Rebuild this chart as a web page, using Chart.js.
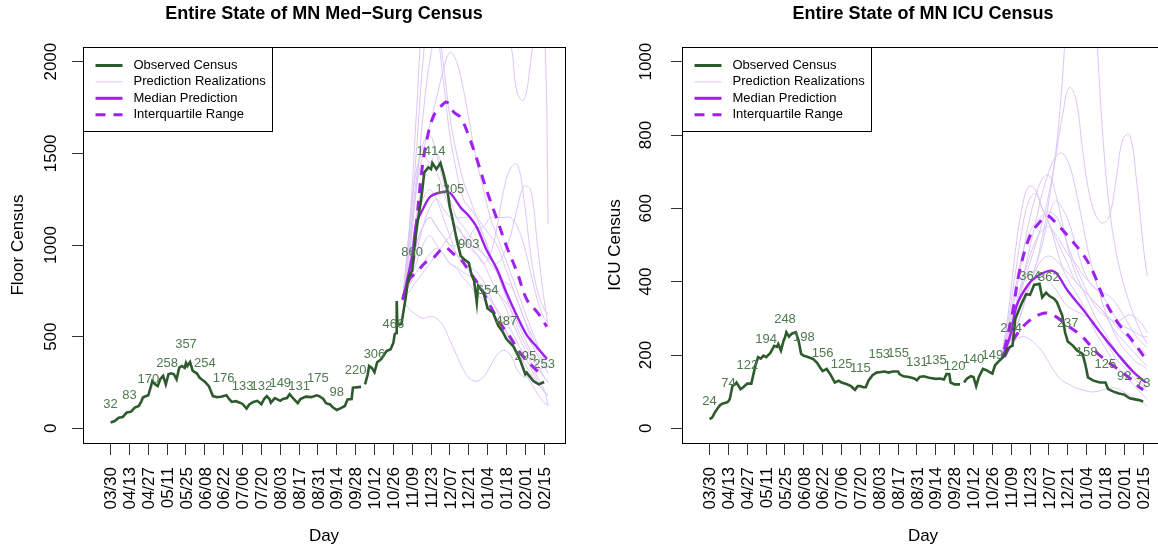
<!DOCTYPE html>
<html>
<head>
<meta charset="utf-8">
<script src="https://cdn.jsdelivr.net/npm/chart.js@4.4.1/dist/chart.umd.min.js"></script>
<style>
  html, body { margin: 0; padding: 0; background: #fff; }
  body { width: 1158px; height: 548px; overflow: hidden; position: relative; }
  .panel { position: absolute; top: 0; width: 579px; height: 548px; }
</style>
</head>
<body>
<div class="panel" style="left:0"><canvas id="msChart" width="579" height="548"></canvas></div>
<div class="panel" style="left:599px"><canvas id="icuChart" width="579" height="548"></canvas></div>
<script>
// x axis: days since 03/30
var tickDays = [0, 14, 28, 42, 56, 70, 84, 98, 112, 126, 140, 154, 168, 182, 196, 210, 224, 238, 252, 266, 280, 294, 308, 322];
var tickLabels = ['03/30', '04/13', '04/27', '05/11', '05/25', '06/08', '06/22', '07/06', '07/20', '08/03', '08/17', '08/31',
  '09/14', '09/28', '10/12', '10/26', '11/09', '11/23', '12/07', '12/21', '01/04', '01/18', '02/01', '02/15'];

// numbers printed above the observed line at each tick date
var msLabelVals = [32, 83, 170, 258, 357, 254, 176, 133, 132, 149, 131, 175, 98, 220, 306, 466, 860, 1414, 1205, 903, 654, 487, 295, 253];
var icuLabelVals = [24, 74, 122, 194, 248, 198, 156, 125, 115, 153, 155, 131, 135, 120, 140, 149, 224, 364, 362, 237, 158, 125, 92, 73];

var msYTicks = [0, 500, 1000, 1500, 2000];
var icuYTicks = [0, 200, 400, 600, 800, 1000];

// observed med-surg census
var obsDaysMS = [0, 3, 6, 9, 12, 15, 18, 21, 23, 24,
  26, 28, 30, 31, 33, 35, 37, 39, 41, 43,
  45, 47, 49, 51, 53, 55, 56, 57, 59, 61,
  64, 66, 68, 70, 73, 76, 79, 82, 84, 86,
  88, 90, 93, 96, 98, 101, 103, 106, 109, 112,
  114, 116, 118, 119, 122, 126, 128, 131, 133, 136,
  139, 141, 145, 149, 153, 155, 158, 160, 163, 165,
  168, 171, 174, 176, 179, 180, 186, 187, 189, 191,
  192, 194, 196, 198, 201, 203, 205, 208, 210, 211,
  212, 212.5, 213, 216, 219, 221, 223, 224, 226, 228,
  231, 233, 236, 238, 239, 242, 245, 247, 250, 252,
  254, 257, 260, 263, 266, 268, 270, 272, 273, 277,
  280, 284, 288, 291, 294, 299, 304, 308, 309, 314,
  318, 322];
var obsMS = [32, 40, 58, 62, 86, 90, 113, 122, 150, 168,
  175, 180, 230, 258, 240, 231, 270, 286, 240, 295,
  300, 295, 267, 331, 340, 330, 357, 340, 362, 313,
  300, 277, 265, 254, 230, 176, 170, 172, 176, 180,
  160, 144, 148, 140, 133, 108, 130, 144, 150, 132,
  160, 176, 160, 140, 165, 150, 160, 165, 186, 160,
  137, 160, 173, 170, 180, 175, 160, 137, 130, 115,
  100, 110, 122, 158, 160, 222, 226, null, 240, 295,
  340, 330, 306, 360, 377, 400, 422, 431, 466, 513,
  520, 695, 565, 568, 704, 814, 850, 860, 1014, 1123,
  1268, 1396, 1423, 1414, 1447, 1414, 1447, 1396, 1305, 1205,
  1141, 1032, 941, 920, 903, 840, 804, 686, 777, 741,
  654, 632, 559, 530, 487, 449, 377, 295, 304, 258,
  240, 253];

// observed ICU census
var obsDaysICU = [0, 2, 4, 6, 8, 10, 13, 14, 15, 17,
  19, 20, 23, 25, 28, 31, 34, 36, 38, 40,
  42, 45, 48, 50, 51, 53, 55, 56, 57, 59,
  61, 64, 66, 68, 70, 72, 75, 77, 80, 82,
  84, 87, 90, 93, 96, 98, 102, 105, 108, 110,
  112, 114, 116, 118, 121, 124, 126, 130, 133, 136,
  140, 141, 144, 148, 152, 154, 156, 159, 163, 168,
  171, 174, 176, 178, 179, 182, 186, 187, 189, 191,
  194, 196, 198, 200, 203, 206, 208, 210, 212, 214,
  219, 221, 224, 225, 227, 231, 235, 238, 241, 245,
  247, 250, 252, 256, 258, 262, 264, 266, 270, 273,
  277, 279, 280, 281, 285, 290, 294, 296, 300, 304,
  308, 312, 316, 319, 322];
var obsICU = [25, 30, 44, 55, 64, 68, 71, 74, 80, 116,
  120, 125, 107, 112, 122, 122, 171, 194, 190, 198,
  194, 205, 225, 222, 230, 212, 240, 248, 262, 250,
  258, 262, 241, 203, 198, 196, 192, 189, 178, 166,
  156, 162, 145, 125, 130, 125, 120, 115, 105, 115,
  115, 112, 112, 130, 145, 152, 153, 155, 152, 155,
  155, 148, 142, 140, 136, 131, 140, 142, 138, 135,
  136, 133, 148, 148, 125, 120, 120, null, 125, 135,
  142, 140, 115, 140, 162, 158, 153, 149, 172, 180,
  198, 216, 224, 225, 298, 334, 366, 364, 391, 394,
  357, 370, 362, 353, 344, 307, 262, 237, 225, 212,
  203, 175, 158, 139, 130, 125, 125, 107, 100, 95,
  92, 82, 79, 77, 73];

// prediction summaries, med-surg
var medDaysMS = [217, 224, 227, 232, 237, 242, 250, 253, 260, 266, 272, 279, 287, 294, 302, 309, 317, 324];
var medMS = [700, 941, 1114, 1196, 1260, 1281, 1290, 1278, 1205, 1159, 1096, 977, 868, 740, 610, 510, 440, 380];
var q3DaysMS = [217, 224, 227, 231, 235, 240, 247, 250, 255, 260, 265, 272, 279, 287, 294, 302, 309, 317, 324];
var q3MS = [704, 886, 1105, 1396, 1578, 1705, 1769, 1778, 1724, 1696, 1614, 1469, 1305, 1141, 995, 850, 704, 632, 555];
var q1DaysMS = [217, 222, 227, 234, 240, 248, 255, 260, 267, 274, 282, 289, 297, 304, 312, 318];
var q1MS = [704, 814, 850, 905, 932, 987, 950, 923, 850, 777, 668, 577, 495, 413, 349, 304];

// prediction summaries, ICU
var medDaysICU = [217, 219, 224, 228, 236, 243, 253, 258, 266, 278, 290, 303, 315, 324];
var medICU = [195, 207, 262, 334, 389, 414, 430, 421, 375, 321, 262, 203, 153, 125];
var q3DaysICU = [219, 225, 230, 238, 246, 251, 258, 266, 278, 285, 293, 303, 313, 324];
var q3ICU = [215, 316, 425, 525, 566, 580, 557, 525, 471, 425, 353, 289, 244, 189];
var q1DaysICU = [219, 226, 236, 248, 256, 266, 276, 283, 290, 303, 313, 318, 322];
var q1ICU = [195, 244, 289, 314, 307, 280, 253, 225, 198, 162, 134, 116, 105];

// prediction realizations (shared day grid)
var realDays = [217, 222, 227, 232, 237, 242, 247, 252, 257, 262, 267, 272, 277, 282, 287, 292, 297, 302, 307, 312, 317, 322, 325];
var realMS = [
  [700, 1100, 1700, 2300, 2600, 2700, 2600, 2500, 2400, 2400, 2300, 2300, 2200, 2200, 2200, 2150, 2100, 1830, 1790, 2000, 2300, 2200, 1114],
  [700, 1050, 1500, 2000, 2300, 2250, 2000, 1700, 1500, 1350, 1250, 1150, 1050, 950, 850, 750, 650, 550, 470, 400, 330, 280, 250],
  [700, 950, 1300, 1700, 2000, 2150, 1900, 1600, 1400, 1250, 1200, 1150, 1100, 1050, 1000, 900, 800, 700, 600, 520, 450, 400, 380],
  [700, 1000, 1350, 1550, 1600, 1500, 1350, 1250, 1150, 1100, 1050, 1000, 950, 900, 850, 780, 700, 620, 540, 470, 400, 340, 300],
  [700, 850, 1000, 1100, 1150, 1100, 1050, 1000, 1000, 1050, 1000, 950, 900, 950, 1100, 1300, 1420, 1440, 1250, 950, 750, 650, 620],
  [700, 800, 950, 1100, 1200, 1250, 1200, 1150, 1100, 1050, 1000, 980, 950, 920, 900, 950, 1050, 1200, 1320, 1300, 1000, 700, 560],
  [700, 900, 1150, 1350, 1450, 1400, 1300, 1200, 1150, 1150, 1150, 1100, 1100, 1150, 1150, 1150, 1150, 1100, 1000, 850, 700, 600, 580],
  [700, 650, 620, 600, 610, 600, 560, 480, 400, 320, 270, 258, 280, 340, 400, 426, 400, 320, 280, 290, 320, 330, 333],
  [700, 780, 850, 900, 950, 980, 950, 900, 880, 850, 830, 800, 780, 760, 740, 700, 650, 580, 500, 420, 350, 280, 250],
  [700, 800, 900, 1000, 1050, 1000, 950, 900, 870, 820, 780, 730, 700, 650, 600, 540, 480, 420, 360, 300, 250, 200, 180],
  [700, 900, 1100, 1250, 1300, 1250, 1150, 1050, 950, 900, 850, 800, 750, 700, 650, 600, 540, 470, 400, 330, 260, 200, 180],
  [700, 850, 1000, 1100, 1150, 1100, 1050, 1000, 950, 900, 880, 850, 800, 720, 640, 560, 480, 400, 320, 250, 190, 140, 130],
  [700, 1000, 1300, 1500, 1650, 1800, 1950, 2050, 2000, 1850, 1650, 1450, 1300, 1150, 1050, 950, 850, 750, 650, 550, 460, 380, 350],
  [700, 1100, 1400, 1500, 1450, 1500, 1400, 1200, 1050, 1000, 1050, 1100, 1050, 950, 850, 800, 780, 700, 600, 500, 420, 360, 330],
  [700, 750, 800, 850, 900, 950, 1000, 1050, 1100, 1050, 980, 950, 900, 820, 750, 680, 600, 520, 440, 360, 280, 210, 120]
];
var realICU = [
  [200, 230, 270, 320, 380, 440, 520, 620, 750, 950, 1250, 1450, 1500, 1350, 1100, 800, 600, 480, 400, 340, 290, 250, 230],
  [200, 250, 310, 380, 440, 500, 560, 640, 740, 850, 930, 900, 760, 640, 580, 560, 580, 680, 790, 800, 680, 500, 416],
  [200, 250, 320, 400, 480, 560, 640, 700, 740, 750, 720, 650, 560, 470, 400, 340, 290, 250, 220, 200, 180, 170, 160],
  [200, 270, 360, 460, 560, 630, 680, 690, 640, 560, 480, 420, 380, 340, 300, 270, 240, 210, 180, 160, 140, 120, 110],
  [200, 320, 480, 600, 660, 650, 600, 560, 520, 480, 440, 400, 380, 360, 340, 320, 290, 260, 240, 220, 200, 180, 170],
  [200, 300, 420, 540, 620, 640, 600, 560, 500, 440, 400, 370, 340, 300, 260, 230, 200, 170, 150, 130, 110, 90, 80],
  [200, 260, 330, 400, 460, 510, 540, 550, 530, 500, 470, 450, 420, 400, 380, 360, 330, 300, 280, 270, 260, 250, 250],
  [200, 240, 290, 340, 390, 430, 460, 470, 460, 440, 420, 400, 380, 360, 340, 320, 300, 290, 300, 310, 300, 280, 260],
  [200, 220, 240, 250, 245, 230, 210, 180, 150, 130, 120, 110, 105, 100, 100, 105, 110, 110, 100, 90, 80, 70, 60],
  [200, 260, 330, 390, 420, 430, 420, 400, 380, 350, 330, 320, 310, 300, 280, 250, 220, 190, 170, 150, 130, 115, 100],
  [200, 280, 380, 470, 530, 560, 580, 590, 580, 540, 490, 440, 400, 360, 330, 310, 300, 280, 260, 240, 220, 210, 200],
  [200, 230, 270, 320, 380, 440, 500, 580, 620, 600, 560, 500, 440, 400, 380, 370, 360, 340, 310, 280, 250, 230, 220]
];

var FONT = '"Liberation Sans", Arial, Helvetica, sans-serif';
var GREEN = '#2e5b2e';
var LABEL_GREEN = '#4e7a4e';
var PURPLE = '#a020f0';
var LAVENDER = '#dcc6f6';

function pts(days, vals) {
  return days.map(function(d, i) { return { x: d, y: vals[i] }; });
}

function decorPlugin(p) {
  return {
    id: 'decor',
    afterDraw: function(chart) {
      var ctx = chart.ctx, a = chart.chartArea;
      var xs = chart.scales.x, ys = chart.scales.y;
      ctx.save();

      // numbers above the observed line
      ctx.fillStyle = LABEL_GREEN;
      ctx.font = '13px ' + FONT;
      ctx.textAlign = 'center';
      ctx.textBaseline = 'middle';
      tickDays.forEach(function(d, i) {
        ctx.fillText(String(p.labelVals[i]), xs.getPixelForValue(d), ys.getPixelForValue(p.labelVals[i]) - 18);
      });

      // plot box
      ctx.strokeStyle = '#000';
      ctx.lineWidth = 1;
      ctx.strokeRect(Math.round(a.left) + 0.5, Math.round(a.top) + 0.5, Math.round(a.right - a.left), Math.round(a.bottom - a.top));

      // legend
      var lx = Math.round(a.left) + 0.5, ly = Math.round(a.top) + 0.5;
      ctx.fillStyle = '#fff';
      ctx.fillRect(lx, ly, 189, 84);
      ctx.strokeRect(lx, ly, 189, 84);
      var items = [
        { t: 'Observed Census', c: GREEN, w: 3, d: [] },
        { t: 'Prediction Realizations', c: LAVENDER, w: 1, d: [] },
        { t: 'Median Prediction', c: PURPLE, w: 3, d: [] },
        { t: 'Interquartile Range', c: PURPLE, w: 3, d: [10, 8] }
      ];
      ctx.font = '13px ' + FONT;
      ctx.textAlign = 'left';
      items.forEach(function(it, i) {
        var yy = ly + 18 + i * 16.4;
        ctx.beginPath();
        ctx.setLineDash(it.d);
        ctx.strokeStyle = it.c;
        ctx.lineWidth = it.w;
        ctx.moveTo(lx + 12, yy);
        ctx.lineTo(lx + 39, yy);
        ctx.stroke();
        ctx.setLineDash([]);
        ctx.fillStyle = '#000';
        ctx.fillText(it.t, lx + 50, yy);
      });

      // title
      ctx.fillStyle = '#000';
      ctx.font = 'bold 18px ' + FONT;
      ctx.textAlign = 'center';
      ctx.fillText(p.title, (a.left + a.right) / 2, 14);

      // x tick labels, vertical
      ctx.font = '17px ' + FONT;
      ctx.textAlign = 'right';
      tickDays.forEach(function(d, i) {
        ctx.save();
        ctx.translate(xs.getPixelForValue(d) + 1, a.bottom + 24);
        ctx.rotate(-Math.PI / 2);
        ctx.fillText(tickLabels[i], 0, 0);
        ctx.restore();
      });

      // y tick labels, parallel to the axis
      ctx.textAlign = 'center';
      p.yTicks.forEach(function(v) {
        ctx.save();
        ctx.translate(a.left - p.yLabOff, ys.getPixelForValue(v));
        ctx.rotate(-Math.PI / 2);
        ctx.fillText(String(v), 0, 0);
        ctx.restore();
      });

      // axis titles
      ctx.fillText('Day', (a.left + a.right) / 2, 536);
      ctx.save();
      ctx.translate(a.left - p.yTitleOff, (a.top + a.bottom) / 2);
      ctx.rotate(-Math.PI / 2);
      ctx.fillText(p.yTitle, 0, 0);
      ctx.restore();

      ctx.restore();
    }
  };
}

function makePanel(canvasId, p) {
  var datasets = [];
  datasets.push({ data: pts(p.obsDays, p.obs), borderColor: GREEN, borderWidth: 2.6, tension: 0, order: 0 });
  datasets.push({ data: pts(p.medDays, p.med), borderColor: PURPLE, borderWidth: 2.4, tension: 0.35, order: 1 });
  datasets.push({ data: pts(p.q3Days, p.q3), borderColor: PURPLE, borderWidth: 3, borderDash: [10, 8], tension: 0.35, order: 2 });
  datasets.push({ data: pts(p.q1Days, p.q1), borderColor: PURPLE, borderWidth: 3, borderDash: [10, 8], tension: 0.35, order: 2 });
  p.real.forEach(function(r) {
    datasets.push({ data: pts(realDays, r), borderColor: LAVENDER, borderWidth: 1, tension: 0.4, order: 3 });
  });

  return new Chart(document.getElementById(canvasId), {
    type: 'line',
    data: { datasets: datasets },
    options: {
      responsive: false,
      animation: false,
      events: [],
      spanGaps: false,
      elements: { point: { radius: 0 } },
      layout: { padding: { top: 47, right: 14, bottom: 0, left: 0 } },
      plugins: { legend: { display: false }, tooltip: { enabled: false }, title: { display: false } },
      scales: {
        x: {
          type: 'linear',
          min: -20.5,
          max: 337.5,
          afterBuildTicks: function(s) { s.ticks = tickDays.map(function(v) { return { value: v }; }); },
          afterFit: function(s) { s.height = 105; },
          ticks: { display: false },
          border: { display: false },
          grid: { drawOnChartArea: false, drawTicks: true, tickLength: 12, color: '#333' }
        },
        y: {
          type: 'linear',
          min: p.yMin,
          max: p.yMax,
          afterBuildTicks: function(s) { s.ticks = p.yTicks.map(function(v) { return { value: v }; }); },
          afterFit: function(s) { s.width = 83; },
          ticks: { display: false },
          border: { display: false },
          grid: { drawOnChartArea: false, drawTicks: true, tickLength: 11, color: '#333' }
        }
      }
    },
    plugins: [decorPlugin(p)]
  });
}

makePanel('msChart', {
  title: 'Entire State of MN Med\u2212Surg Census',
  yTitle: 'Floor Census',
  yMin: -80, yMax: 2080, yTicks: msYTicks,
  yLabOff: 32, yTitleOff: 65,
  labelVals: msLabelVals,
  obsDays: obsDaysMS, obs: obsMS,
  medDays: medDaysMS, med: medMS,
  q3Days: q3DaysMS, q3: q3MS,
  q1Days: q1DaysMS, q1: q1MS,
  real: realMS
});

makePanel('icuChart', {
  title: 'Entire State of MN ICU Census',
  yTitle: 'ICU Census',
  yMin: -40, yMax: 1040, yTicks: icuYTicks,
  yLabOff: 36, yTitleOff: 67,
  labelVals: icuLabelVals,
  obsDays: obsDaysICU, obs: obsICU,
  medDays: medDaysICU, med: medICU,
  q3Days: q3DaysICU, q3: q3ICU,
  q1Days: q1DaysICU, q1: q1ICU,
  real: realICU
});
</script>
</body>
</html>
